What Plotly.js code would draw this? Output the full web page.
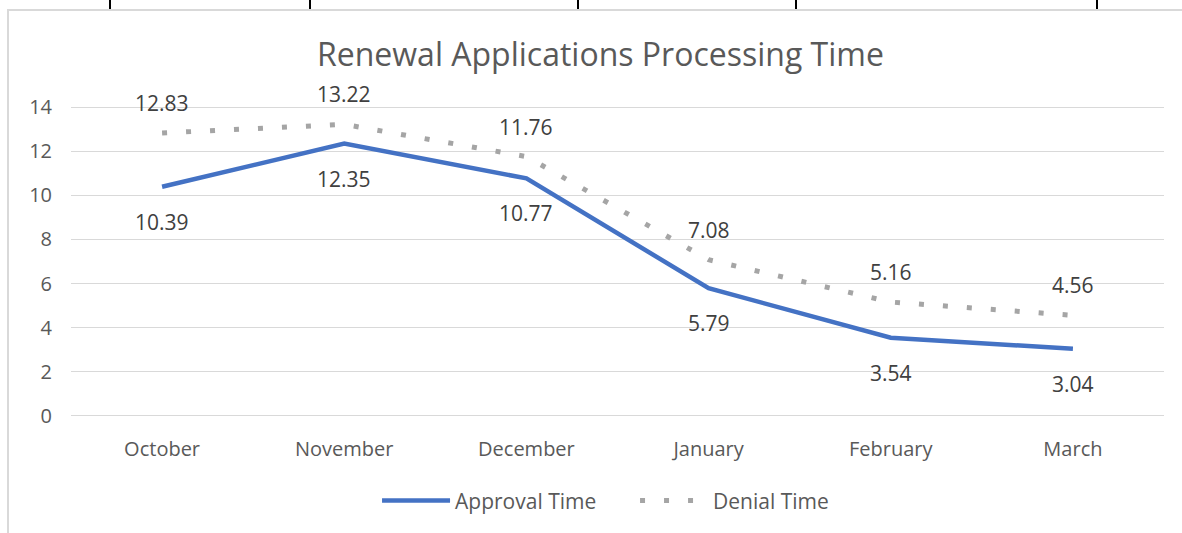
<!DOCTYPE html>
<html>
<head>
<meta charset="utf-8">
<script src="https://cdn.plot.ly/plotly-3.0.1.min.js"></script>
<style>
  html, body { margin: 0; padding: 0; background: #fff; }
  #wrap { position: relative; width: 1182px; height: 533px; overflow: hidden; }
  #frame { position: absolute; left: 7px; top: 9px; width: 1200px; height: 560px; border-left: 2px solid #D9D9D9; border-top: 2px solid #D9D9D9; box-sizing: border-box; }
  .tick { position: absolute; top: 0; width: 2px; height: 9px; background: #000; }
  #chart { position: absolute; left: 0; top: 0; width: 1182px; height: 533px; }
</style>
</head>
<body>
<div id="wrap">
  <div id="chart"></div>
  <div id="frame"></div>
  <div class="tick" style="left:109px"></div>
  <div class="tick" style="left:309px"></div>
  <div class="tick" style="left:577px"></div>
  <div class="tick" style="left:795px"></div>
  <div class="tick" style="left:1096px"></div>
</div>
<script>
const months = ["October", "November", "December", "January", "February", "March"];
const approvalTime = [10.39, 12.35, 10.77, 5.79, 3.54, 3.04];
const denialTime = [12.83, 13.22, 11.76, 7.08, 5.16, 4.56];
const yTicks = [0, 2, 4, 6, 8, 10, 12, 14];

const FONT = "Open Sans, Liberation Sans, sans-serif";
const TXT = "#404040";

const traces = [
  {
    x: months, y: approvalTime, name: "Approval Time", type: "scatter",
    mode: "lines", line: { color: "#4472C4", width: 4.5 }, cliponaxis: false
  },
  {
    x: months, y: denialTime, name: "Denial Time", type: "scatter",
    mode: "lines", line: { color: "#A5A5A5", width: 5, dash: "5px,19px" }, cliponaxis: false
  }
];

const labelAnn = (xs, ys, shift) => xs.map((m, i) => ({
  x: m, y: ys[i], xref: "x", yref: "y", text: ys[i].toFixed(2),
  showarrow: false, yshift: shift, xanchor: "center", yanchor: "middle",
  font: { family: FONT, size: 21, color: TXT }
}));

const layout = {
  width: 1182, height: 533,
  margin: { l: 71, r: 18, t: 105, b: 115 },
  paper_bgcolor: "#fff", plot_bgcolor: "#fff",
  font: { family: FONT, color: "#595959" },
  title: {
    text: "Renewal Applications Processing Time",
    font: { family: FONT, size: 32, color: "#595959" },
    x: 0.508, xanchor: "center", y: 0.897, yanchor: "middle"
  },
  xaxis: {
    type: "category", range: [-0.5, 5.5],
    showgrid: false, zeroline: false, showline: false, ticks: "",
    tickfont: { family: FONT, size: 20, color: "#595959" },
    ticklabelstandoff: 17
  },
  yaxis: {
    range: [-0.1, 14.1], tickvals: yTicks, ticktext: yTicks.map(String),
    showgrid: true, gridcolor: "#D9D9D9", gridwidth: 1.3,
    zeroline: false, showline: false, ticks: "",
    tickfont: { family: FONT, size: 20, color: "#595959" },
    ticklabelstandoff: 18
  },
  annotations: labelAnn(months, denialTime, 30).concat(labelAnn(months, approvalTime, -35)),
  showlegend: true,
  legend: {
    orientation: "h", x: 0.28, xanchor: "left", y: -0.265, yanchor: "middle",
    font: { family: FONT, size: 21, color: "#595959" },
    itemwidth: 68, entrywidth: 175, traceorder: "normal"
  }
};

Plotly.newPlot("chart", traces, layout, { displayModeBar: false, staticPlot: true });
</script>
</body>
</html>
